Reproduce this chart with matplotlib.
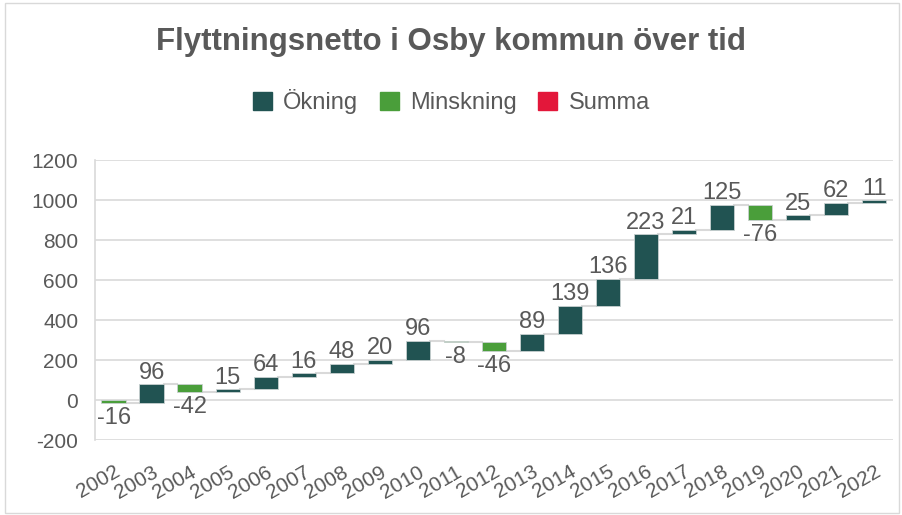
import matplotlib.pyplot as plt
from matplotlib.patches import Rectangle

plt.rcParams['font.family'] = ['Liberation Sans', 'DejaVu Sans']
plt.rcParams['axes.unicode_minus'] = False

years = ['2002', '2003', '2004', '2005', '2006', '2007', '2008', '2009', '2010', '2011',
         '2012', '2013', '2014', '2015', '2016', '2017', '2018', '2019', '2020', '2021', '2022']
changes = [-16, 96, -42, 15, 64, 16, 48, 20, 96, -8,
           -46, 89, 139, 136, 223, 21, 125, -76, 25, 62, 11]

COL_UP = '#215352'
COL_DOWN = '#4A9E3A'
COL_SUM = '#E3173A'
TXT = '#595959'
GRID = '#D9D9D9'

fig = plt.figure(figsize=(9.03, 5.15), dpi=100)
ax = fig.add_axes([0.105, 0.1456, 0.884, 0.5437])

# waterfall bars
width = 0.65
total = 0
ends = []
for i, v in enumerate(changes):
    start = total
    total += v
    ends.append(total)
    color = COL_UP if v >= 0 else COL_DOWN
    ax.bar(i, v, bottom=start, width=width, color=color, edgecolor='#C8D0D0', linewidth=0.6, zorder=3)
    if v >= 0:
        ax.text(i, max(start, total) + 2, str(v), ha='center', va='bottom', fontsize=17, color=TXT, zorder=4)
    else:
        ax.text(i, min(start, total) - 18, str(v), ha='center', va='top', fontsize=17, color=TXT, zorder=4)

# connectors
for i in range(len(changes) - 1):
    ax.plot([i + width / 2, i + 1 - width / 2], [ends[i], ends[i]], color=GRID, lw=1.5, zorder=2)

ax.set_xlim(-0.5, len(changes) - 0.5)
ax.set_ylim(-200, 1200)
ax.set_yticks(range(-200, 1201, 200))
ax.set_xticks(range(len(years)))
ax.set_xticklabels(years, rotation=30, ha='right', va='top', rotation_mode='anchor')
ax.tick_params(axis='both', length=0, labelsize=15, labelcolor=TXT)
ax.tick_params(axis='y', pad=12)
ax.tick_params(axis='x', pad=16)
ax.grid(axis='y', color=GRID, lw=1.2, zorder=0)
for s in ['top', 'right', 'bottom']:
    ax.spines[s].set_visible(False)
ax.spines['left'].set_color(GRID)
ax.spines['left'].set_linewidth(1.2)

fig.text(0.5, 0.918, 'Flyttningsnetto i Osby kommun över tid', ha='center', va='center',
         fontsize=22.5, fontweight='bold', color=TXT)

handles = [Rectangle((0, 0), 1, 1, color=c) for c in (COL_UP, COL_DOWN, COL_SUM)]
fig.legend(handles, ['Ökning', 'Minskning', 'Summa'], loc='center', bbox_to_anchor=(0.5, 0.803),
           ncol=3, frameon=False, fontsize=17, labelcolor=TXT, handlelength=0.8, handleheight=0.8,
           handletextpad=0.5, columnspacing=0.9)

fig.patches.append(Rectangle((0.006, 0.004), 0.99, 0.99, transform=fig.transFigure,
                             fill=False, edgecolor='#D9D9D9', lw=1))

fig.savefig('out.png', dpi=100)
